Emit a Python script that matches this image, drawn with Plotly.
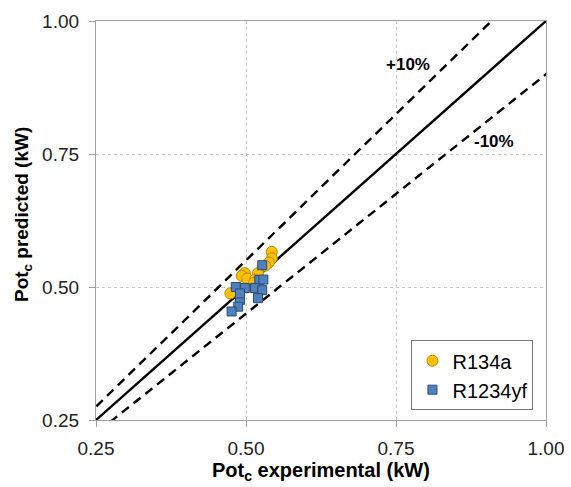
import plotly.graph_objects as go

# R134a (circles)
r134a_x = [0.543, 0.543, 0.538, 0.532, 0.498, 0.493, 0.502, 0.520, 0.515, 0.513, 0.474]
r134a_y = [0.566, 0.554, 0.546, 0.540, 0.526, 0.521, 0.516, 0.526, 0.514, 0.508, 0.488]
# R1234yf (squares)
r1234yf_x = [0.527, 0.522, 0.529, 0.515, 0.527, 0.520, 0.483, 0.498, 0.490, 0.487, 0.476, 0.490]
r1234yf_y = [0.541, 0.513, 0.514, 0.498, 0.494, 0.479, 0.500, 0.498, 0.476, 0.463, 0.454, 0.488]

ref_x = [0.0, 1.2]
tick_vals = [0.25, 0.50, 0.75, 1.00]
tick_text = ["0.25", "0.50", "0.75", "1.00"]

FONT = "Liberation Sans, Arial, sans-serif"

fig = go.Figure()
fig.add_trace(go.Scatter(x=ref_x, y=[v * 1.1 for v in ref_x], mode="lines",
                         line=dict(color="black", width=2.4, dash="9px,6px"),
                         showlegend=False, hoverinfo="skip"))
fig.add_trace(go.Scatter(x=ref_x, y=[v * 0.9 for v in ref_x], mode="lines",
                         line=dict(color="black", width=2.4, dash="9px,6px"),
                         showlegend=False, hoverinfo="skip"))
fig.add_trace(go.Scatter(x=ref_x, y=ref_x, mode="lines",
                         line=dict(color="black", width=2.4),
                         showlegend=False, hoverinfo="skip"))
fig.add_trace(go.Scatter(x=r134a_x, y=r134a_y, mode="markers", name="R134a",
                         marker=dict(symbol="circle", size=11, color="#FFC000",
                                     line=dict(color="#B88A00", width=1))))
fig.add_trace(go.Scatter(x=r1234yf_x, y=r1234yf_y, mode="markers", name="R1234yf",
                         marker=dict(symbol="square", size=9, color="#4F81BD",
                                     line=dict(color="#2A4A75", width=1))))

axis_common = dict(
    range=[0.25, 1.0], tickvals=tick_vals, ticktext=tick_text,
    showgrid=True, gridcolor="#C4C4C4", griddash="3px,3px", gridwidth=1,
    showline=True, linecolor="#A0A0A0", linewidth=1.2, mirror=True,
    ticks="outside", ticklen=6, tickcolor="#A0A0A0",
    tickfont=dict(family=FONT, size=19, color="#222222"),
    zeroline=False,
)
fig.update_xaxes(**axis_common, ticklabelstandoff=5)
fig.update_yaxes(**axis_common, ticklabelstandoff=6)

fig.update_layout(
    width=571, height=487,
    margin=dict(l=96, r=25, t=21, b=67, autoexpand=False),
    paper_bgcolor="white", plot_bgcolor="white",
    font=dict(family=FONT, color="black"),
    legend=dict(x=0.701, y=0.200, xanchor="left", yanchor="top",
                bordercolor="#777777", borderwidth=1, bgcolor="white",
                font=dict(family=FONT, size=20, color="black"),
                itemsizing="trace", itemwidth=30, tracegroupgap=0),
    annotations=[
        dict(text="<b>Pot<sub>c</sub> experimental (kW)</b>", xref="paper", yref="paper",
             x=0.5, y=-0.13, xanchor="center", yanchor="middle", showarrow=False,
             font=dict(family=FONT, size=20, color="black")),
        dict(text="<b>Pot<sub>c</sub> predicted (kW)</b>", xref="paper", yref="paper",
             x=-0.162, y=0.514, xanchor="center", yanchor="middle", textangle=-90,
             showarrow=False, font=dict(family=FONT, size=19, color="black")),
        dict(text="<b>+10%</b>", xref="x", yref="y", x=(408 - 96) / 600 + 0.25,
             y=1.0 - (64 - 21) / 532, showarrow=False,
             font=dict(family=FONT, size=17, color="black")),
        dict(text="<b>-10%</b>", xref="x", yref="y", x=(494 - 96) / 600 + 0.25,
             y=1.0 - (141 - 21) / 532, showarrow=False,
             font=dict(family=FONT, size=17, color="black")),
    ],
)

fig.write_html("out.html")
